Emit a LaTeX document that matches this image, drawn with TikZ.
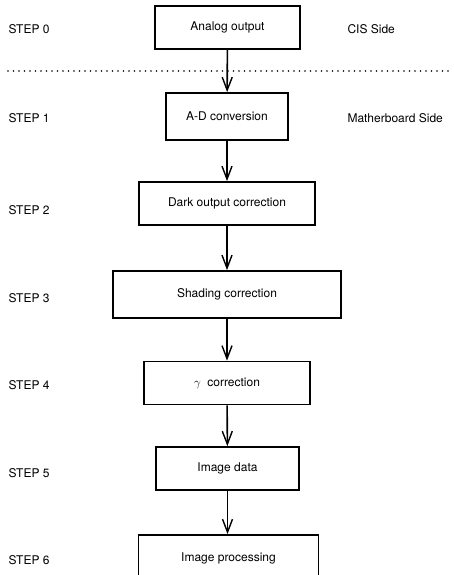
\documentclass[tikz,border=0pt]{standalone}
\usepackage{fontspec}
\setmainfont{TeX Gyre Heros}
\usetikzlibrary{arrows.meta}
\begin{document}
\begin{tikzpicture}[x=1pt, y=-1pt,
	every node/.style={font=\fontsize{12}{14}\selectfont},
	stepbox/.style={draw, line width=1.8pt, minimum height=43pt, inner sep=0pt},
	flow/.style={line width=1.6pt, -{Straight Barb[length=13pt, width=10pt, line width=1.4pt]}},
	steplabel/.style={anchor=west}]
\useasboundingbox (0,0) rectangle (453,575);
\clip (0,0) rectangle (453,575);
\node[stepbox, minimum width=145pt] (s0) at (227.5, 27.5) {Analog output};
\node[stepbox, minimum width=122pt, minimum height=47pt] (s1) at (227, 116.5) {A-D conversion};
\node[stepbox, minimum width=176pt] (s2) at (227, 203.5) {Dark output correction};
\node[stepbox, minimum width=228pt, minimum height=47pt] (s3) at (227, 294.5) {Shading correction};
\node[stepbox, minimum width=166pt] (s4) at (227, 383) {$\gamma$\ \ correction};
\node[stepbox, minimum width=143pt] (s5) at (227.5, 468.5) {Image data};
\node[stepbox, minimum width=180pt, minimum height=48pt] (s6) at (228.5, 559) {};
\node (t6) at (228.5, 558) {Image processing};

\node[steplabel] (l0) at (5, 29) {STEP 0};
\node[steplabel] (l1) at (5, 118) {STEP 1};
\node[steplabel] (l2) at (5, 210) {STEP 2};
\node[steplabel] (l3) at (5, 298) {STEP 3};
\node[steplabel] (l4) at (5, 385) {STEP 4};
\node[steplabel] (l5) at (5, 473) {STEP 5};
\node[steplabel] (l6) at (5, 560) {STEP 6};

\node[steplabel] (cis) at (344, 29) {CIS Side};
\node[steplabel] (mb) at (344, 118) {Matherboard Side};

\coordinate (dl) at (8, 71);
\coordinate (dr) at (453, 71);
\draw[line width=1.6pt, line cap=round, dash pattern=on 0pt off 5.5pt] (dl) -- (dr);

\draw[flow] (s0) -- (s1);
\draw[flow] (s1) -- (s2);
\draw[flow] (s2) -- (s3);
\draw[flow] (s3) -- (s4);
\draw[flow] (s4) -- (s5);
\draw[flow] (s5.south) -- (s6.north -| s5.south);
\end{tikzpicture}
\end{document}
